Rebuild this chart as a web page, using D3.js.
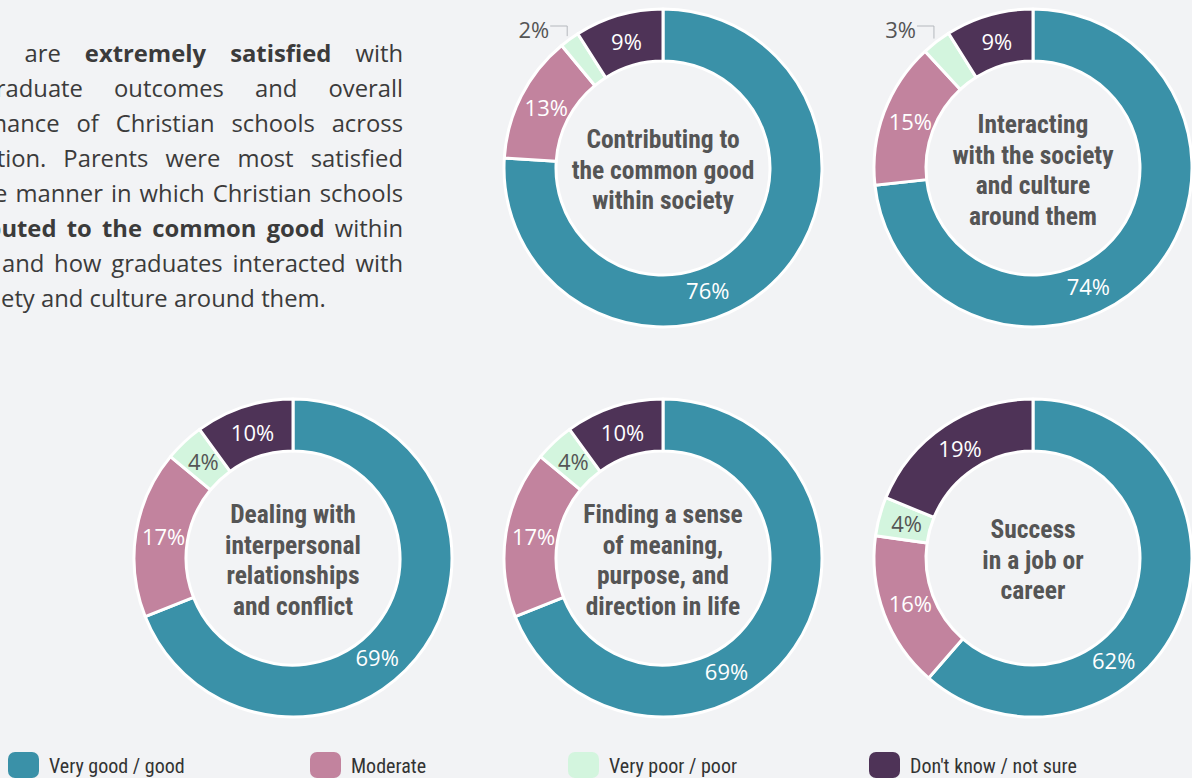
<!DOCTYPE html>
<html>
<head>
<meta charset="utf-8">
<script src="https://cdn.jsdelivr.net/npm/d3@7"></script>
<style>
  html, body { margin: 0; padding: 0; background: #f2f3f5; overflow: hidden; }
  svg { display: block; }
</style>
</head>
<body>
<script>
// categories, in drawing order (clockwise from 12 o'clock)
var categories = ["Very good / good", "Moderate", "Very poor / poor", "Don't know / not sure"];
var colors = ["#3a91a8", "#c2839e", "#d3f5de", "#4e3357"];

// one value per topic, per category
var veryGood = [76, 74, 69, 69, 62];
var moderate = [13, 15, 17, 17, 16];
var veryPoor = [2, 3, 4, 4, 4];
var dontKnow = [9, 9, 10, 10, 19];

var topics = [
  ["Contributing to", "the common good", "within society"],
  ["Interacting", "with the society", "and culture", "around them"],
  ["Dealing with", "interpersonal", "relationships", "and conflict"],
  ["Finding a sense", "of meaning,", "purpose, and", "direction in life"],
  ["Success", "in a job or", "career"]
];

var paragraph = [
  "Parents are **extremely satisfied** with",
  "the graduate outcomes and overall",
  "performance of Christian schools across",
  "the nation. Parents were most satisfied",
  "with the manner in which Christian schools",
  "**contributed to the common good** within",
  "society and how graduates interacted with",
  "the society and culture around them."
];

// layout
var W = 1192, H = 778;
var slots = [[1, 0], [2, 0], [0, 1], [1, 1], [2, 1]];
var mainLabelAngle = [160, 155, 140, 151, 142];
var legendX = [8, 310, 568, 869];
var outerR = 159, innerR = 107, labelR = 131;

var svg = d3.select("body").append("svg").attr("width", W).attr("height", H);

var xPos = d3.scaleLinear().domain([0, 2]).range([293, 1033]);
var yPos = d3.scaleLinear().domain([0, 1]).range([168, 558]);

var pie = d3.pie().sort(null).value(function(d){ return d.v; });
var arc = d3.arc().innerRadius(innerR).outerRadius(outerR);

var bodyFont = "'Open Sans', Lato, sans-serif";
var narrowFont = "'Liberation Sans Narrow', 'Arial Narrow', 'Roboto Condensed', sans-serif";

// ---------- paragraph ----------
var paraSize = 23.8;
var measurer = svg.append("text").attr("font-family", bodyFont).attr("font-size", paraSize).attr("opacity", 0);
function measure(s, bold){
  measurer.attr("font-weight", bold ? 700 : 400).text(s);
  return measurer.node().getComputedTextLength();
}
var spaceW = measure("a a") - measure("aa");
var paraRight = 403;
var paraLeft = -measure("the soci") + 1;

var paraG = svg.append("g").attr("font-family", bodyFont).attr("font-size", paraSize).attr("fill", "#3b3b3b");
var bold = false;
paragraph.forEach(function(line, i){
  var tokens = [];
  line.split(" ").forEach(function(w){
    var b = bold;
    if (w.startsWith("**")) { w = w.slice(2); b = true; bold = true; }
    if (w.endsWith("**")) { w = w.slice(0, -2); bold = false; }
    tokens.push({ w: w, b: b, width: measure(w, b) });
  });
  var total = d3.sum(tokens, function(t){ return t.width; });
  var last = i === paragraph.length - 1;
  var gap = last ? spaceW : (paraRight - paraLeft - total) / (tokens.length - 1);
  var x = paraLeft;
  tokens.forEach(function(t){
    paraG.append("text")
      .attr("x", x)
      .attr("y", 62 + 35 * i)
      .attr("font-weight", t.b ? 700 : 400)
      .text(t.w);
    x += t.width + gap;
  });
});

// ---------- donuts ----------
topics.forEach(function(lines, i){
  var data = [veryGood[i], moderate[i], veryPoor[i], dontKnow[i]].map(function(v, k){
    return { v: v, k: k };
  });
  var cx = xPos(slots[i][0]), cy = yPos(slots[i][1]);
  var g = svg.append("g").attr("transform", "translate(" + cx + "," + cy + ")");
  var arcs = pie(data);

  g.selectAll("path").data(arcs).enter().append("path")
    .attr("d", arc)
    .attr("fill", function(d){ return colors[d.data.k]; })
    .attr("stroke", "#ffffff")
    .attr("stroke-width", 3)
    .attr("stroke-linejoin", "round");

  arcs.forEach(function(d){
    var v = d.data.v, k = d.data.k;
    var mid = (d.startAngle + d.endAngle) / 2;
    if (k === 0) mid = mainLabelAngle[i] * Math.PI / 180;
    if (v <= 3) {
      // small slice: label outside with a leader line
      var r0 = outerR + 4;
      var px = Math.sin(mid) * r0, py = -Math.cos(mid) * r0;
      var topY = -142;
      g.append("path")
        .attr("d", "M" + px + "," + py + "V" + topY + "H" + (px - 17))
        .attr("fill", "none")
        .attr("stroke", "#b5b8bd")
        .attr("stroke-width", 1);
      g.append("text")
        .attr("x", px - 18)
        .attr("y", topY + 4)
        .attr("dy", "0.35em")
        .attr("text-anchor", "end")
        .attr("font-family", bodyFont)
        .attr("font-size", 22)
        .attr("fill", "#555555")
        .text(v + "%");
      return;
    }
    g.append("text")
      .attr("x", Math.sin(mid) * labelR)
      .attr("y", -Math.cos(mid) * labelR)
      .attr("dy", "0.36em")
      .attr("text-anchor", "middle")
      .attr("font-family", bodyFont)
      .attr("font-size", 22)
      .attr("fill", k === 2 ? "#555555" : "#ffffff")
      .text(v + "%");
  });

  var lh = 30.5;
  var t = g.append("text")
    .attr("text-anchor", "middle")
    .attr("font-family", narrowFont)
    .attr("font-weight", 700)
    .attr("font-size", 25.5)
    .attr("fill", "#555555");
  lines.forEach(function(s, j){
    t.append("tspan")
      .attr("x", 0)
      .attr("y", 2 + (j - (lines.length - 1) / 2) * lh)
      .attr("dy", "0.35em")
      .text(s);
  });
});

// ---------- legend ----------
var legend = svg.append("g");
categories.forEach(function(c, k){
  legend.append("rect")
    .attr("x", legendX[k]).attr("y", 752)
    .attr("width", 31).attr("height", 26)
    .attr("rx", 7)
    .attr("fill", colors[k]);
  legend.append("text")
    .attr("x", legendX[k] + 41).attr("y", 773)
    .attr("font-family", narrowFont)
    .attr("font-size", 20)
    .attr("fill", "#333333")
    .text(c);
});
</script>
</body>
</html>
